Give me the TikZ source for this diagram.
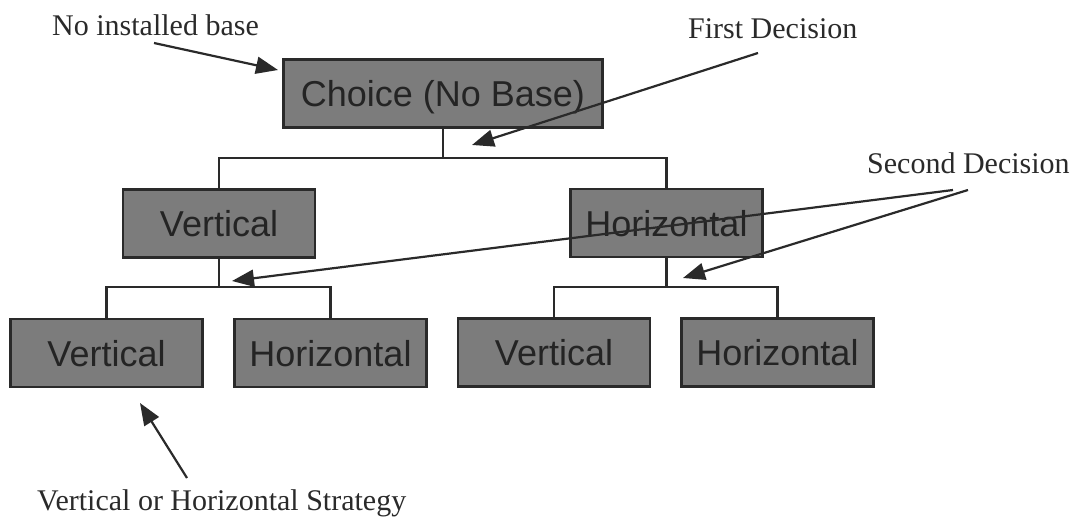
\documentclass[tikz,border=0pt]{standalone}
\usepackage{fontspec}
\setmainfont{Liberation Serif}
\newfontfamily\boxfont{Liberation Sans}
\usetikzlibrary{arrows.meta}
\definecolor{boxfill}{HTML}{7C7C7C}
\definecolor{ink}{HTML}{2A2A2A}
\definecolor{boxtext}{HTML}{242424}
\begin{document}
\begin{tikzpicture}[x=1pt,y=-1pt,
  choicebox/.style={draw=ink,line width=2.4pt,fill=boxfill,text=boxtext,
    font=\boxfont\fontsize{36}{40}\selectfont,inner sep=0pt,
    minimum height=68pt,text height=26pt,text depth=0pt},
  leaf/.style={choicebox,minimum width=192pt},
  note/.style={text=ink,font=\fontsize{30}{34}\selectfont,inner sep=0pt,anchor=base west},
  branch/.style={draw=ink,line width=2.6pt},
  pointer/.style={draw=ink,line width=2.2pt,-{Triangle[length=22pt,width=17pt]}}]
\useasboundingbox (0,0) rectangle (1072,522);

% decision tree boxes
\node[choicebox,minimum width=319pt] (root) at (443,93.5) {Choice (No Base)};
\node[leaf] (v2) at (219,223.5) {Vertical};
\node[leaf] (h2) at (666.5,223) {Horizontal};
\node[leaf] (v3a) at (106.5,353) {Vertical};
\node[leaf] (h3a) at (330.5,353) {Horizontal};
\node[leaf] (v3b) at (554,352.5) {Vertical};
\node[leaf] (h3b) at (777.5,352.5) {Horizontal};

% branch junctions
\coordinate (j1) at (443,158);
\coordinate (j2) at (219,287);
\coordinate (j3) at (666.5,287);

\draw[branch] (root.south) -- (j1);
\draw[branch] (v2.north) |- (j1) -| (h2.north);
\draw[branch] (v2.south) -- (j2);
\draw[branch] (v3a.north) |- (j2) -| (h3a.north);
\draw[branch] (h2.south) -- (j3);
\draw[branch] (v3b.north) |- (j3) -| (h3b.north);

% annotations
\node[note] (nbase) at (52,35) {No installed base};
\node[note] (first) at (688,38) {First Decision};
\node[note] (second) at (867,173) {Second Decision};
\node[note] (strategy) at (37,510) {Vertical or Horizontal Strategy};

\coordinate (nbaseA) at (154,43);
\coordinate (nbaseB) at (278,70);
\coordinate (firstA) at (758,53);
\coordinate (firstB) at (472,145);
\coordinate (secondA) at (953,190);
\coordinate (secondB) at (232,281);
\coordinate (secondC) at (968,190);
\coordinate (secondD) at (683,278);
\coordinate (stratA) at (187,478);
\coordinate (stratB) at (140,403);

\draw[pointer] (nbaseA) -- (nbaseB);
\draw[pointer] (firstA) -- (firstB);
\draw[pointer] (secondA) -- (secondB);
\draw[pointer] (secondC) -- (secondD);
\draw[pointer] (stratA) -- (stratB);
\end{tikzpicture}
\end{document}
